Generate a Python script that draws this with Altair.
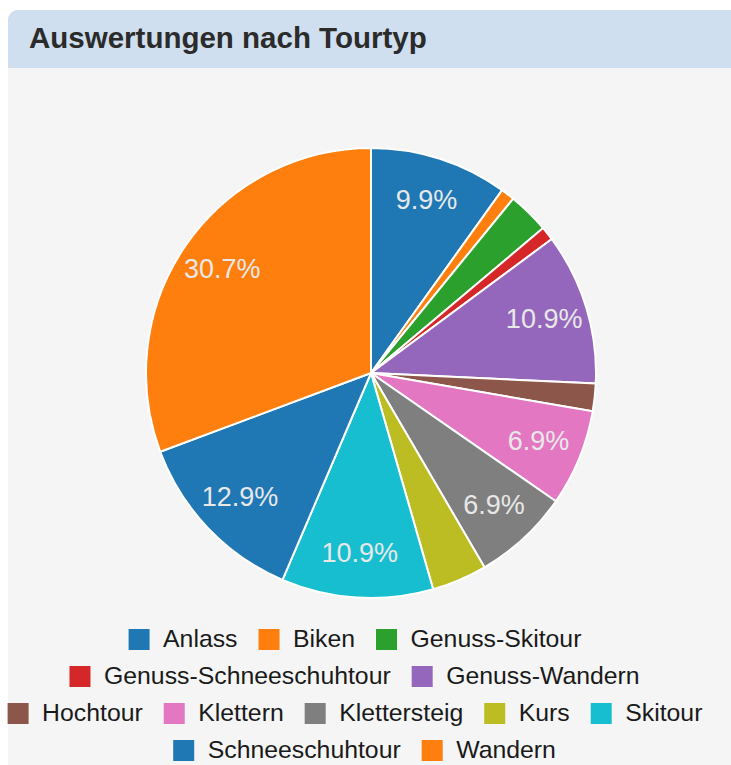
import altair as alt
import pandas as pd

# ---- data ----
categories = ["Anlass", "Biken", "Genuss-Skitour", "Genuss-Schneeschuhtour",
              "Genuss-Wandern", "Hochtour", "Klettern", "Klettersteig", "Kurs",
              "Skitour", "Schneeschuhtour", "Wandern"]
counts = [10, 1, 3, 1, 11, 2, 7, 7, 4, 11, 13, 31]
colors = ["#1f77b4", "#ff7f0e", "#2ca02c", "#d62728", "#9467bd", "#8c564b",
          "#e377c2", "#7f7f7f", "#bcbd22", "#17becf", "#1f77b4", "#ff7f0e"]
legend_rows = [["Anlass", "Biken", "Genuss-Skitour"],
               ["Genuss-Schneeschuhtour", "Genuss-Wandern"],
               ["Hochtour", "Klettern", "Klettersteig", "Kurs", "Skitour"],
               ["Schneeschuhtour", "Wandern"]]
title_text = "Auswertungen nach Tourtyp"

# ---- layout constants ----
W, H = 731, 765
CX, CY, R = 371, 373, 225
LABEL_R = 181
FONT = "Liberation Sans"
LEG_FS = 24.8
SQ = 21
SQ_GAP = 13.5
ITEM_GAP = 21
ROW_Y = [639.5, 676.5, 713.5, 750.5]
ROW_CX = [355, 355, 355, 365]

total = sum(counts)
pie_df = pd.DataFrame({
    "category": categories,
    "count": counts,
    "idx": list(range(len(categories))),
})
pie_df["label"] = [f"{c / total * 100:.1f}%" if c >= 5 else "" for c in counts]

# Arial / Liberation Sans advance widths (per 1000 em)
cw = {"A": 667, "B": 667, "G": 778, "H": 722, "K": 667, "S": 667, "W": 944,
      "a": 556, "c": 500, "d": 556, "e": 556, "g": 556, "h": 556, "i": 222,
      "k": 500, "l": 222, "n": 556, "o": 556, "r": 333, "s": 500, "t": 278,
      "u": 556, "-": 333}


def text_w(s):
    return sum(cw.get(ch, 556) for ch in s) * LEG_FS / 1000.0


leg_recs = []
for r, row in enumerate(legend_rows):
    widths = [SQ + SQ_GAP + text_w(name) for name in row]
    tot = sum(widths) + ITEM_GAP * (len(row) - 1)
    x = ROW_CX[r] - tot / 2
    for name, w in zip(row, widths):
        leg_recs.append({"category": name, "sx": x + SQ / 2,
                         "tx": x + SQ + SQ_GAP, "ty": ROW_Y[r]})
        x += w + ITEM_GAP
leg_df = pd.DataFrame(leg_recs)

color_scale = alt.Scale(domain=categories, range=colors)
one = pd.DataFrame({"k": [0]})

body = alt.Chart(one).mark_rect(fill="#f5f5f5").encode(
    x=alt.value(8), x2=alt.value(760), y=alt.value(68), y2=alt.value(790))
header = alt.Chart(one).mark_rect(fill="#cfdfef", cornerRadiusTopLeft=10,
                                  cornerRadiusTopRight=10).encode(
    x=alt.value(8), x2=alt.value(760), y=alt.value(10), y2=alt.value(68))
title = alt.Chart(one).mark_text(
    text=title_text, align="left", baseline="middle", font=FONT,
    fontSize=29.5, fontWeight="bold", color="#2b2b2b").encode(
    x=alt.value(29), y=alt.value(39))

base = alt.Chart(pie_df).encode(
    theta=alt.Theta("count:Q", stack=True),
    order=alt.Order("idx:Q", sort="ascending"),
    x=alt.value(CX), y=alt.value(CY),
)
arcs = base.mark_arc(outerRadius=R, stroke="white", strokeWidth=2).encode(
    color=alt.Color("category:N", scale=color_scale, legend=None))
labels = base.mark_text(radius=LABEL_R, fontSize=27, font=FONT,
                        color="#e8e8e8", align="center",
                        baseline="middle").encode(
    text="label:N", detail="category:N")

leg_sq = alt.Chart(leg_df).mark_square(size=SQ * SQ, opacity=1,
                                       filled=True).encode(
    x=alt.X("sx:Q", scale=None), y=alt.Y("ty:Q", scale=None),
    color=alt.Color("category:N", scale=color_scale, legend=None))
leg_tx = alt.Chart(leg_df).mark_text(align="left", baseline="middle",
                                     font=FONT, fontSize=LEG_FS,
                                     color="#1a1a1a").encode(
    x=alt.X("tx:Q", scale=None), y=alt.Y("ty:Q", scale=None),
    text="category:N")

chart = alt.layer(body, header, title, arcs, labels, leg_sq, leg_tx).properties(
    width=W, height=H, autosize=alt.AutoSizeParams(type="none"),
    padding=0, background="white",
).resolve_scale(color="shared").configure_view(stroke=None)

chart.save("out.html", embed_options={"renderer": "svg", "actions": False})
